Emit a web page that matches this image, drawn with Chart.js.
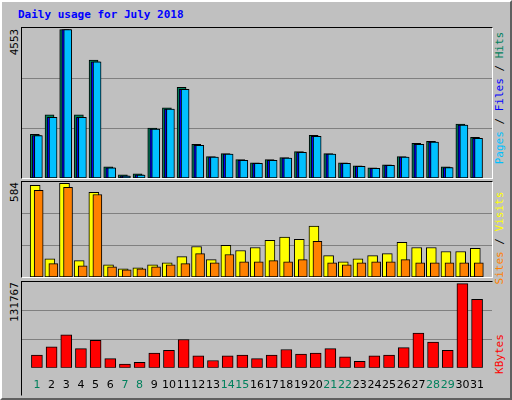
<!DOCTYPE html>
<html>
<head>
<meta charset="utf-8">
<script src="https://cdn.jsdelivr.net/npm/chart.js@4"></script>
<style>
  body { margin: 0; background: #fff; }
  #wrap { position: relative; width: 508px; height: 396px; background: #c0c0c0;
    border: 2px solid; border-color: #fff #606060 #606060 #fff; font-family: "DejaVu Sans Mono", monospace; }
  .panel { position: absolute; border: 1px solid; border-color: #000 #fff #fff #000; }
  .lbl { position: absolute; white-space: nowrap; font-size: 11px; transform: translate(-50%, -50%) rotate(-90deg); }
  #title { position: absolute; left: 16px; top: 6px; font-weight: bold; font-size: 11px; color: #0000ff; }
</style>
</head>
<body>
<div id="wrap">
  <div id="title">Daily usage for July 2018</div>
  <div class="panel" style="left:19px;top:25px;width:470px;height:150px"><canvas id="c1"></canvas></div>
  <div class="panel" style="left:19px;top:179px;width:470px;height:95px"><canvas id="c2"></canvas></div>
  <div class="panel" style="left:19px;top:279px;width:470px;height:113px;border-color:#000 transparent transparent #000"><canvas id="c3"></canvas></div>
  <div class="lbl" style="left:12px;top:40px">4553</div>
  <div class="lbl" style="left:12px;top:190px">584</div>
  <div class="lbl" style="left:12px;top:300px">131767</div>
  <div class="lbl" style="left:497px;top:96px"><span style="color:#00c0ff">Pages</span> / <span style="color:#0000ff">Files</span> / <span style="color:#00805c">Hits</span></div>
  <div class="lbl" style="left:497px;top:236px"><span style="color:#ff8000">Sites</span> / <span style="color:#ffff00">Visits</span></div>
  <div class="lbl" style="left:497px;top:352px;color:#ff0000">KBytes</div>
</div>
<script>
const days = Array.from({ length: 31 }, (_, i) => i + 1);
const weekendDays = [1, 7, 8, 14, 15, 21, 22, 28, 29];
const hits = [1342, 1934, 4553, 1934, 3620, 343, 94, 125, 1529, 2153, 2777, 1030, 655, 749, 562, 468, 562, 624, 811, 1310, 749, 468, 374, 312, 406, 655, 1061, 1123, 343, 1654, 1248];
const files = [1300, 1860, 4553, 1860, 3560, 310, 70, 100, 1500, 2110, 2720, 1000, 640, 730, 540, 450, 540, 610, 790, 1280, 730, 450, 360, 300, 390, 640, 1030, 1100, 320, 1620, 1220];
const pages = [1300, 1860, 4553, 1860, 3560, 310, 60, 90, 1500, 2110, 2720, 1000, 640, 730, 540, 450, 540, 610, 790, 1280, 730, 450, 360, 300, 390, 640, 1030, 1100, 320, 1620, 1220];
const visits = [571, 114, 584, 102, 527, 76, 51, 57, 76, 89, 127, 190, 108, 197, 165, 184, 229, 248, 235, 318, 133, 95, 114, 133, 146, 216, 184, 184, 159, 159, 178];
const sites = [540, 83, 559, 70, 514, 64, 44, 51, 64, 76, 83, 146, 89, 140, 95, 95, 102, 95, 108, 222, 89, 76, 89, 95, 95, 108, 89, 89, 89, 89, 89];
const kbytes = [20000, 33000, 51500, 30000, 43000, 14300, 5700, 8600, 22900, 27200, 44400, 18600, 11500, 18600, 20000, 14300, 20000, 28600, 21500, 22900, 30000, 17200, 10000, 18600, 20000, 31500, 54400, 40100, 27200, 131767, 107400];

function series(vals, shift) {
  return vals.map((v, i) => ({ x: days[i] + shift, y: v }));
}
function ds(vals, shift, color, order, width) {
  return { data: series(vals, shift), backgroundColor: color, borderColor: "#000", borderWidth: 1,
    borderSkipped: false, barThickness: width, grouped: false, order: order };
}
function makeChart(id, datasets, max, showX) {
  new Chart(document.getElementById(id), {
    type: "bar",
    data: { datasets: datasets },
    options: {
      responsive: true, maintainAspectRatio: false, animation: false,
      layout: { padding: 0 },
      plugins: { legend: { display: false }, tooltip: { enabled: false } },
      scales: {
        x: { type: "linear", min: 0.5, max: 31.5, display: showX,
          grid: { display: false }, border: { display: false },
          afterBuildTicks: s => { s.ticks = days.map(d => ({ value: d })); },
          ticks: { autoSkip: false, maxRotation: 0, padding: 3,
            font: { family: "DejaVu Sans", size: 11 },
            color: c => weekendDays.includes(c.tick.value) ? "#00805c" : "#000" } },
        y: { min: 0, max: max, border: { display: false },
          afterBuildTicks: s => { s.ticks = [0, max / 3, max * 2 / 3, max].map(v => ({ value: v })); },
          grid: { color: "#808080", drawTicks: false, lineWidth: c => (c.index === 1 || c.index === 2) ? 1 : 0 },
          ticks: { display: false } }
      }
    }
  });
}
makeChart("c1", [
  ds(hits, -0.14, "#00805c", 3, 9),
  ds(files, 0, "#0000ff", 2, 9),
  ds(pages, 0.1, "#00c0ff", 1, 8)
], 4600, false);
makeChart("c2", [
  ds(visits, -0.12, "#ffff00", 2, 10),
  ds(sites, 0.12, "#ff8000", 1, 9)
], 592, false);
makeChart("c3", [ds(kbytes, 0, "#ff0000", 1, 11)], 131767 * 1.02, true);
</script>
</body>
</html>
